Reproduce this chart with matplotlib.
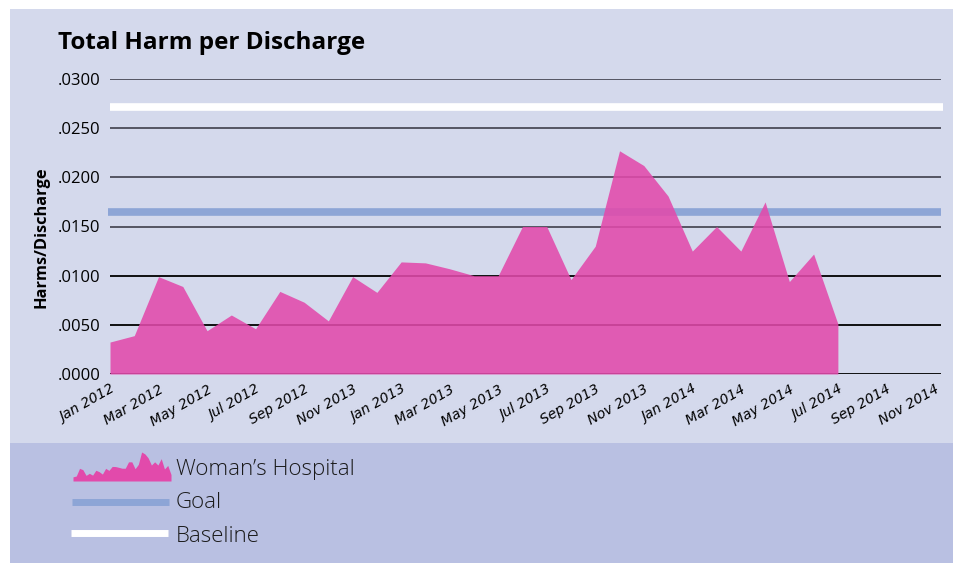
import matplotlib
matplotlib.use("Agg")
import matplotlib.pyplot as plt
from matplotlib.patches import Rectangle
import numpy as np

# monthly harms per discharge, Jan 2012 .. Jul 2014
harm_values = [0.00325, 0.0039, 0.0099, 0.0089, 0.0044, 0.0060, 0.0046, 0.0084,
               0.0073, 0.0054, 0.0099, 0.0083, 0.0114, 0.0113, 0.0107, 0.0100,
               0.0100, 0.0150, 0.0150, 0.0096, 0.0130, 0.0227, 0.0212, 0.0181,
               0.0125, 0.0150, 0.0125, 0.0175, 0.0094, 0.0122, 0.0051]
goal_value = 0.0165
baseline_value = 0.0272

x_tick_labels = ["Jan 2012", "Mar 2012", "May 2012", "Jul 2012", "Sep 2012", "Nov 2013",
                 "Jan 2013", "Mar 2013", "May 2013", "Jul 2013", "Sep 2013", "Nov 2013",
                 "Jan 2014", "Mar 2014", "May 2014", "Jul 2014", "Sep 2014", "Nov 2014"]
y_ticks = [0.0, 0.005, 0.010, 0.015, 0.020, 0.025, 0.030]
y_tick_labels = [".0000", ".0050", ".0100", ".0150", ".0200", ".0250", ".0300"]

BG_TOP = "#d4d9ec"
BG_LEGEND = "#b9c0e2"
AREA_COLOR = "#e24aab"
GOAL_COLOR = "#8da5d6"
GRID_COLOR = "#4a4b58"

W, H = 954, 563
fig = plt.figure(figsize=(W / 100, H / 100), dpi=100, facecolor="white")


def fx(px):
    return px / W


def fy(py):
    return 1 - py / H


# background panels on their own axes, behind everything
bg = fig.add_axes([0, 0, 1, 1], zorder=-5)
bg.set_xlim(0, W)
bg.set_ylim(H, 0)
bg.axis("off")
bg.add_patch(Rectangle((10, 9), 943, 434, color=BG_TOP, lw=0))
bg.add_patch(Rectangle((10, 443), 943, H - 443, color=BG_LEGEND, lw=0))

ax = fig.add_axes([fx(110), fy(374), fx(941) - fx(110), fy(79) - fy(374)])
ax.set_facecolor("none")
for s in ax.spines.values():
    s.set_visible(False)

months = np.arange(len(harm_values))
n_months = 34
x_max = 34.25

for yv in y_ticks:
    ax.axhline(yv, color=GRID_COLOR if yv >= 0.015 else "black", lw=1.3, zorder=1)
ax.plot([-0.1, x_max], [goal_value] * 2, color=GOAL_COLOR, lw=5.5,
        solid_capstyle="butt", zorder=2, clip_on=False)
ax.plot([0, x_max + 0.1], [baseline_value] * 2, color="white", lw=5.5,
        solid_capstyle="butt", zorder=2, clip_on=False)
ax.fill_between(months, harm_values, 0, color=AREA_COLOR, alpha=0.88, lw=0, zorder=3)

ax.set_xlim(0, x_max)
ax.set_ylim(0, 0.030)
ax.set_yticks(y_ticks)
ax.set_yticklabels(y_tick_labels, fontsize=12, family="Open Sans")
ax.set_xticks(np.arange(0, n_months + 1, 2))
ax.set_xticklabels(x_tick_labels, rotation=30, ha="right", rotation_mode="anchor",
                   fontsize=10, style="italic", family=["Liberation Sans Narrow", "DejaVu Sans"])
ax.tick_params(axis="y", length=0, pad=7)
ax.tick_params(axis="x", length=0, pad=6)

fig.text(fx(58), fy(43), "Total Harm per Discharge", fontsize=17.5, fontweight="bold",
         family="Open Sans", va="center", ha="left")
fig.text(fx(42), fy(237), "Harms/Discharge", fontsize=11.8, fontweight="bold",
         family="Open Sans", rotation=90, va="center", ha="center")

# legend
leg_area = fig.add_axes([fx(73), fy(481), fx(171) - fx(73), fy(452) - fy(481)])
leg_area.fill_between(months, harm_values, 0, color=AREA_COLOR, lw=0)
leg_area.set_xlim(0, len(harm_values) - 1)
leg_area.set_ylim(0, max(harm_values))
leg_area.axis("off")

fig.add_artist(plt.Line2D([fx(72), fx(169)], [fy(502)] * 2, color=GOAL_COLOR, lw=5,
                          solid_capstyle="butt"))
fig.add_artist(plt.Line2D([fx(71), fx(168)], [fy(533)] * 2, color="white", lw=5,
                          solid_capstyle="butt"))

leg_font = dict(fontsize=16, family="Open Sans", fontweight="light", color="#1a1a1a",
                va="center", ha="left")
fig.text(fx(176), fy(469), "Woman\u2019s Hospital", **leg_font)
fig.text(fx(176), fy(502), "Goal", **leg_font)
fig.text(fx(176), fy(537), "Baseline", **leg_font)

fig.savefig("out.png", dpi=100, facecolor="white")
